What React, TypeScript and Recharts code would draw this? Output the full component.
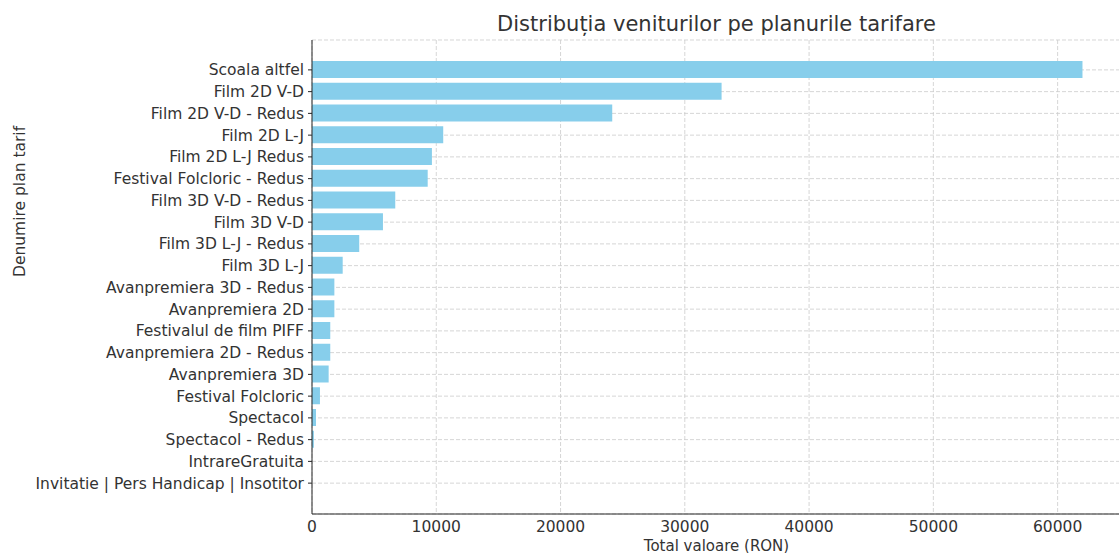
import React from "react";
import {
  BarChart, Bar, XAxis, YAxis, CartesianGrid,
} from "recharts";

// categorii, de sus in jos
const planuri = [
  "Scoala altfel",
  "Film 2D V-D",
  "Film 2D V-D - Redus",
  "Film 2D L-J",
  "Film 2D L-J Redus",
  "Festival Folcloric - Redus",
  "Film 3D V-D - Redus",
  "Film 3D V-D",
  "Film 3D L-J - Redus",
  "Film 3D L-J",
  "Avanpremiera 3D - Redus",
  "Avanpremiera 2D",
  "Festivalul de film PIFF",
  "Avanpremiera 2D - Redus",
  "Avanpremiera 3D",
  "Festival Folcloric",
  "Spectacol",
  "Spectacol - Redus",
  "IntrareGratuita",
  "Invitatie | Pers Handicap | Insotitor",
];

const valori = [
  62000, 32960, 24160, 10560, 9650, 9310, 6700, 5710, 3800, 2470,
  1800, 1800, 1470, 1470, 1340, 640, 320, 150, 0, 0,
];

const xTicks = [0, 10000, 20000, 30000, 40000, 50000, 60000];

const data = planuri.map((plan, i) => ({ plan, total: valori[i] }));

const FONT = "'DejaVu Sans', sans-serif";
const TEXT = "#333333";
const FS = 15.5;

export default function App() {
  return (
    <div style={{ position: "absolute", left: 0, top: 0, width: 1119, height: 553, overflow: "hidden", fontFamily: FONT }}>
      <div
        style={{
          position: "absolute", left: 312, width: 809, top: 11,
          textAlign: "center", fontSize: 21, color: TEXT, fontFamily: FONT, lineHeight: "26px",
        }}
      >
        Distribuția veniturilor pe planurile tarifare
      </div>
      <BarChart
        width={1125}
        height={553}
        data={data}
        layout="vertical"
        margin={{ top: 40, right: 4, bottom: 0, left: 0 }}
      >
        <XAxis
          type="number"
          dataKey="total"
          domain={[0, 65100]}
          ticks={xTicks}
          allowDataOverflow
          stroke="#262626"
          tick={{ fill: TEXT, fontSize: FS, fontFamily: FONT }}
          tickLine={false}
          tickMargin={1}
          height={39}
          label={{ value: "Total valoare (RON)", position: "insideBottom", offset: 0, fill: TEXT, fontSize: 15, fontFamily: FONT, dy: -2.5 }}
        />
        <YAxis
          type="category"
          dataKey="plan"
          width={312}
          interval={0}
          padding={{ top: 19, bottom: 20 }}
          stroke="#262626"
          tick={{ fill: TEXT, fontSize: FS, fontFamily: FONT, dx: -2 }}
          tickLine={{ stroke: "#262626" }}
          tickSize={4}
          label={{ value: "Denumire plan tarif", angle: -90, position: "insideLeft", offset: 19, fill: TEXT, fontSize: FS, fontFamily: FONT }}
        />
        <Bar dataKey="total" fill="#87CEEB" barSize={17} isAnimationActive={false} />
        <CartesianGrid stroke="#cccccc" strokeDasharray="4 2" strokeOpacity={0.8} />
      </BarChart>
    </div>
  );
}
